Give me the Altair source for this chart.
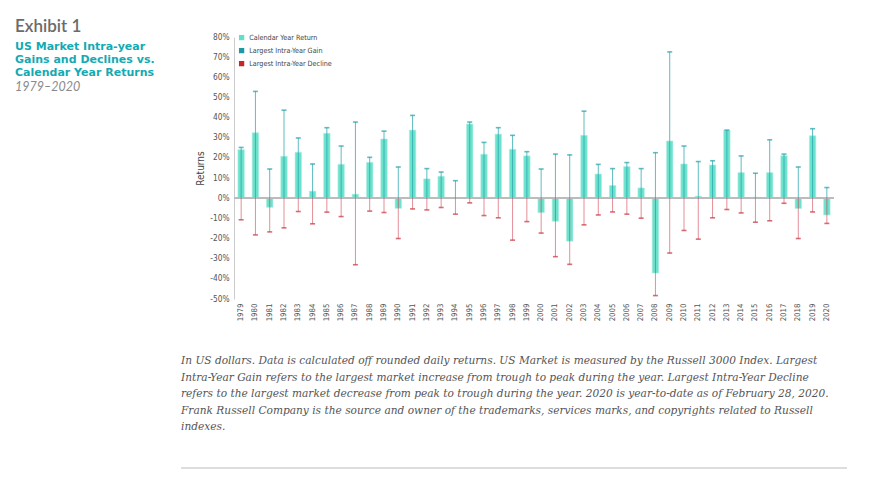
import altair as alt
import pandas as pd

years = list(range(1979, 2021))
calendar_return = [24.1, 32.5, -4.5, 20.8, 22.8, 3.5, 32.2, 16.8, 2.0, 17.8, 29.4, -5.0,
                   33.8, 9.6, 10.9, 0.2, 36.8, 21.8, 31.8, 24.3, 21.0, -7.1, -11.4, -21.3,
                   31.2, 12.0, 6.3, 15.7, 5.1, -37.1, 28.4, 17.0, 1.0, 16.5, 33.7, 12.7,
                   0.5, 12.7, 21.1, -5.1, 31.0, -8.3]
intra_gain = [25.2, 53.0, 14.5, 43.7, 29.9, 17.0, 35.0, 25.9, 37.8, 20.3, 33.3, 15.5,
              41.1, 14.7, 13.0, 8.7, 37.8, 27.7, 35.0, 31.2, 23.1, 14.5, 21.9, 21.5,
              43.2, 16.8, 14.7, 17.7, 14.7, 22.6, 72.6, 25.9, 18.2, 18.6, 33.8, 21.0,
              12.4, 29.0, 21.9, 15.5, 34.5, 5.3]
intra_decline = [-10.7, -18.2, -16.7, -14.7, -6.6, -12.7, -6.9, -9.1, -33.0, -6.4, -7.1, -20.0,
                 -5.3, -5.8, -4.6, -7.9, -2.3, -8.6, -9.7, -20.8, -11.6, -17.3, -29.0, -32.8,
                 -13.2, -8.3, -6.8, -7.9, -9.9, -48.3, -27.2, -16.0, -20.3, -9.7, -5.6, -7.3,
                 -11.9, -11.2, -2.5, -20.0, -6.8, -12.5]
y_ticks = [-50, -40, -30, -20, -10, 0, 10, 20, 30, 40, 50, 60, 70, 80]
series_names = ["Calendar Year Return", "Largest Intra-Year Gain", "Largest Intra-Year Decline"]
series_colors = ["#5fe0c8", "#1b9aa5", "#c1272d"]

title_lines = ["US Market Intra-year", "Gains and Declines vs.", "Calendar Year Returns"]
footnote_lines = [
    "In US dollars. Data is calculated off rounded daily returns. US Market is measured by the Russell 3000 Index. Largest",
    "Intra-Year Gain refers to the largest market increase from trough to peak during the year. Largest Intra-Year Decline",
    "refers to the largest market decrease from peak to trough during the year. 2020 is year-to-date as of February 28, 2020.",
    "Frank Russell Company is the source and owner of the trademarks, services marks, and copyrights related to Russell",
    "indexes.",
]

df = pd.DataFrame({"year": years, "ret": calendar_return,
                   "gain": intra_gain, "decline": intra_decline})
df["zero"] = 0

COND = "Liberation Sans Narrow, DejaVu Sans Condensed, Roboto, sans-serif"

xenc = alt.X("year:O", title=None,
             scale=alt.Scale(paddingInner=0.55, paddingOuter=0.275),
             axis=alt.Axis(labelAngle=270, labelFont=COND, labelFontSize=7.8,
                           labelColor="#555555", ticks=False, domain=False,
                           labelPadding=4, labelBaseline="middle"))
yscale = alt.Scale(domain=[-50, 80], nice=False)
yaxis = alt.Axis(values=y_ticks, labelExpr="datum.value + '%'", grid=False,
                 ticks=False, domainColor="#cccccc", domainWidth=1,
                 labelOverlap=False, labelBound=False,
                 labelFont=COND, labelFontSize=8.3, labelColor="#555555",
                 labelPadding=5, titleFont=COND, titleFontSize=10,
                 titleFontWeight="normal", titleColor="#444444", titlePadding=4)

base = alt.Chart(df)

bars = base.mark_bar(opacity=0.92, stroke="#a8ece1", strokeWidth=0.6).transform_calculate(
    series="'Calendar Year Return'"
).encode(
    x=xenc,
    y=alt.Y("ret:Q", scale=yscale, title="Returns", axis=yaxis),
    color=alt.Color("series:N",
                    scale=alt.Scale(domain=series_names, range=series_colors),
                    legend=alt.Legend(title=None, orient="none", legendX=4, legendY=-3,
                                      symbolType="square", symbolSize=28,
                                      symbolStrokeWidth=0, symbolOpacity=1,
                                      labelFont=COND, labelFontSize=7.2,
                                      labelColor="#444444", rowPadding=5,
                                      labelOffset=4)),
)

zero_line = base.mark_rule(color="#bbbbbb", strokeWidth=1.2).encode(
    y=alt.Y(datum=0, type="quantitative", scale=yscale, title="Returns", axis=yaxis))

gain_rule = base.mark_rule(color="#2aa5ad", opacity=0.75, strokeWidth=1).encode(
    x=xenc, y=alt.Y("zero:Q", scale=yscale, title="Returns", axis=yaxis), y2="gain:Q")
decline_rule = base.mark_rule(color="#cc3344", opacity=0.55, strokeWidth=1).encode(
    x=xenc, y=alt.Y("zero:Q", scale=yscale, title="Returns", axis=yaxis), y2="decline:Q")
gain_cap = base.mark_tick(color="#1f9fa8", size=5, thickness=1.6).encode(
    x=xenc, y=alt.Y("gain:Q", scale=yscale, title="Returns", axis=yaxis))
decline_cap = base.mark_tick(color="#c8303a", size=5, thickness=1.6).encode(
    x=xenc, y=alt.Y("decline:Q", scale=yscale, title="Returns", axis=yaxis))

one = pd.DataFrame({"k": [0]})
exhibit = alt.Chart(one).mark_text(
    align="left", baseline="alphabetic", font="Lato", fontSize=17, fontWeight=600,
    color="#6b6b6b").encode(x=alt.value(-219), y=alt.value(-5.5), text=alt.value("Exhibit 1"))
title = alt.Chart(one).mark_text(
    align="left", baseline="alphabetic", font="DejaVu Sans", fontSize=11, fontWeight="bold",
    color="#14aab3", lineHeight=13.3).encode(
    x=alt.value(-219), y=alt.value(12.6), text=alt.value(title_lines))
period = alt.Chart(one).mark_text(
    align="left", baseline="alphabetic", font="Lato", fontSize=12.5, fontStyle="italic",
    color="#8a8a8a").encode(x=alt.value(-219), y=alt.value(54), text=alt.value("1979\u20132020"))
footnote = alt.Chart(one).mark_text(
    align="left", baseline="alphabetic", font="DejaVu Serif", fontSize=10.6,
    fontStyle="italic", color="#555555", lineHeight=16.5).encode(
    x=alt.value(-53), y=alt.value(327), text=alt.value(footnote_lines))
bottom_rule = alt.Chart(one).mark_rule(color="#bbbbbb", strokeWidth=1).encode(
    x=alt.value(-53), x2=alt.value(613), y=alt.value(431))

chart = alt.layer(
    bars, zero_line, gain_rule, decline_rule, gain_cap, decline_cap,
    exhibit, title, period, footnote, bottom_rule
).properties(
    width=600, height=262,
    autosize=alt.AutoSizeParams(type="none"),
    padding={"left": 226, "top": 29, "right": 30, "bottom": 170},
).configure_view(stroke=None).configure_axisY(labelOverlap=False)

chart.save("out.html", embed_options={"renderer": "svg", "actions": False})
